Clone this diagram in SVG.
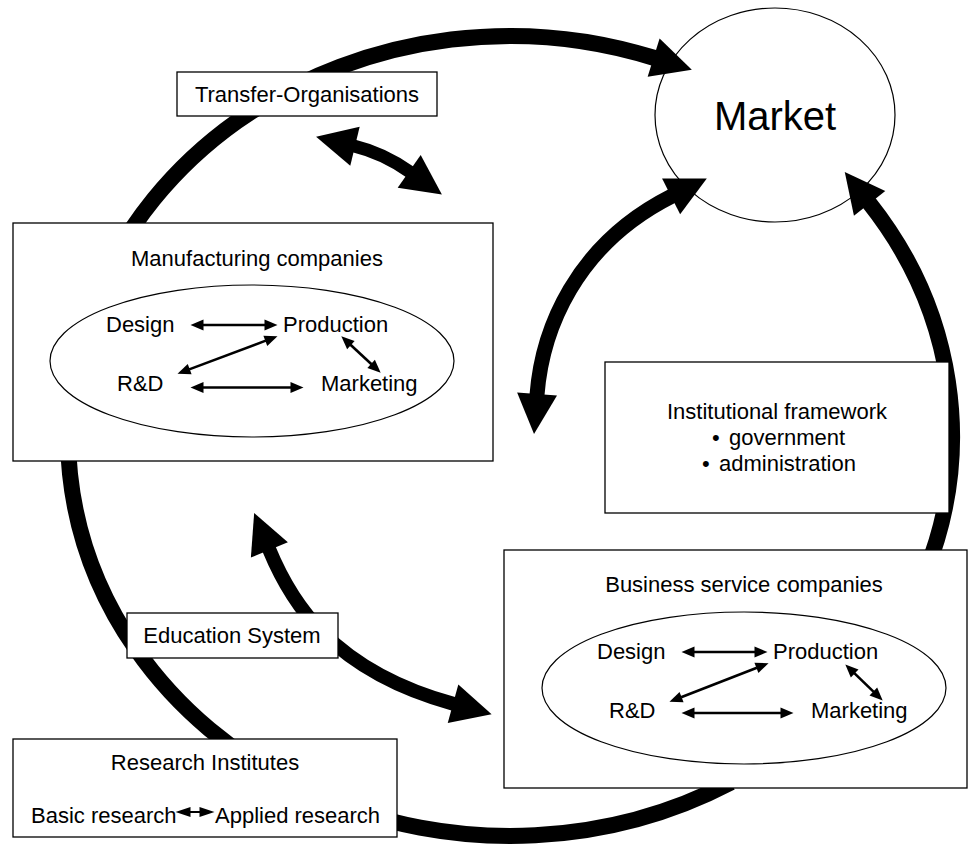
<svg xmlns="http://www.w3.org/2000/svg" width="971" height="847" viewBox="0 0 971 847">
<style>
text{font-family:"Liberation Sans",Arial,Helvetica,sans-serif;font-size:22px;fill:#000}
.box{fill:#fff;stroke:#000;stroke-width:1.3}
.oval{fill:none;stroke:#000;stroke-width:1.2}
.big{fill:none;stroke:#000;stroke-linecap:butt}
.sm{fill:none;stroke:#000;stroke-width:2.6;marker-start:url(#sh);marker-end:url(#sh)}
.c{text-anchor:middle}
</style>
<defs>
<marker id="bh" markerUnits="userSpaceOnUse" markerWidth="42" markerHeight="42" refX="1" refY="20" orient="auto-start-reverse" overflow="visible"><path d="M0,0 L40,20 L0,40 z" fill="#000"/></marker>
<marker id="sh" markerUnits="userSpaceOnUse" markerWidth="14" markerHeight="12" refX="0.5" refY="5.5" orient="auto-start-reverse" overflow="visible"><path d="M0,0 L13,5.5 L0,11 z" fill="#000"/></marker>
<marker id="rh" markerUnits="userSpaceOnUse" markerWidth="16" markerHeight="12" refX="0.5" refY="5" orient="auto-start-reverse" overflow="visible"><path d="M0,0 L15,5 L0,10 z" fill="#000"/></marker>
</defs>
<rect width="971" height="847" fill="#fff"/>

<g id="market">
<ellipse class="oval" cx="775" cy="115" rx="120" ry="107" fill="#fff"/>
<text x="775" y="130" class="c" style="font-size:40px">Market</text>
</g>

<g id="connectors">
<path class="big" stroke-width="16" d="M731 782.4 A442 400 0 1 1 654.6 58" marker-end="url(#bh)"/>
<path class="big" stroke-width="16" d="M925.3 572.8 A442 400 0 0 0 869 202.6" marker-end="url(#bh)"/>
<path class="big" stroke-width="15" d="M537 395 C542 330 575 245 672 196" marker-start="url(#bh)" marker-end="url(#bh)"/>
<path class="big" stroke-width="13" d="M354 146 Q383 153 410 172" marker-start="url(#bh)" marker-end="url(#bh)"/>
<path class="big" stroke-width="14" d="M269 549 C290 600 330 670 454 704" marker-start="url(#bh)" marker-end="url(#bh)"/>
</g>

<g id="transfer-organisations">
<rect class="box" x="177" y="72" width="260" height="44"/>
<text x="307" y="102" class="c">Transfer-Organisations</text>
</g>

<g id="manufacturing-companies">
<rect class="box" x="13" y="223" width="480" height="238"/>
<text x="257" y="266" class="c">Manufacturing companies</text>
<ellipse class="oval" cx="252" cy="361" rx="202" ry="76"/>
<text x="106" y="332">Design</text>
<text x="283" y="332">Production</text>
<text x="117" y="391">R&amp;D</text>
<text x="321" y="391">Marketing</text>
</g>

<g id="institutional-framework">
<rect class="box" x="605" y="362" width="344" height="151"/>
<text x="777" y="419" class="c">Institutional framework</text>
<text x="712" y="445">•</text><text x="729" y="445">government</text>
<text x="702" y="471">•</text><text x="719" y="471">administration</text>
</g>

<g id="education-system">
<rect class="box" x="127" y="613" width="211" height="45"/>
<text x="232" y="643" class="c">Education System</text>
</g>

<g id="business-service-companies">
<rect class="box" x="504" y="550" width="463" height="238"/>
<text x="744" y="592" class="c">Business service companies</text>
<ellipse class="oval" cx="744" cy="688" rx="202" ry="76"/>
<text x="597" y="659">Design</text>
<text x="773" y="659">Production</text>
<text x="609" y="718">R&amp;D</text>
<text x="811" y="718">Marketing</text>
</g>

<g id="research-institutes">
<rect class="box" x="13" y="739" width="384" height="98"/>
<text x="205" y="770" class="c">Research Institutes</text>
<text x="31" y="823">Basic research</text>
<text x="215" y="823">Applied research</text>
</g>

<g id="connectors-inner">
<path class="sm" d="M203 325 L265 325"/>
<path class="sm" d="M203 387.5 L291 387.5"/>
<path class="sm" d="M189.2 369.4 L265.8 340.6"/>
<path class="sm" d="M350.5 344.8 L371.5 364.2"/>
<path class="sm" d="M694 652 L755 652"/>
<path class="sm" d="M694 713 L781 713"/>
<path class="sm" d="M681.1 697.3 L756.9 667.7"/>
<path class="sm" d="M854.3 673.1 L873.7 691.9"/>
<path fill="none" stroke="#000" stroke-width="2" d="M190 812 L200 812" marker-start="url(#rh)" marker-end="url(#rh)"/>
</g>
</svg>
